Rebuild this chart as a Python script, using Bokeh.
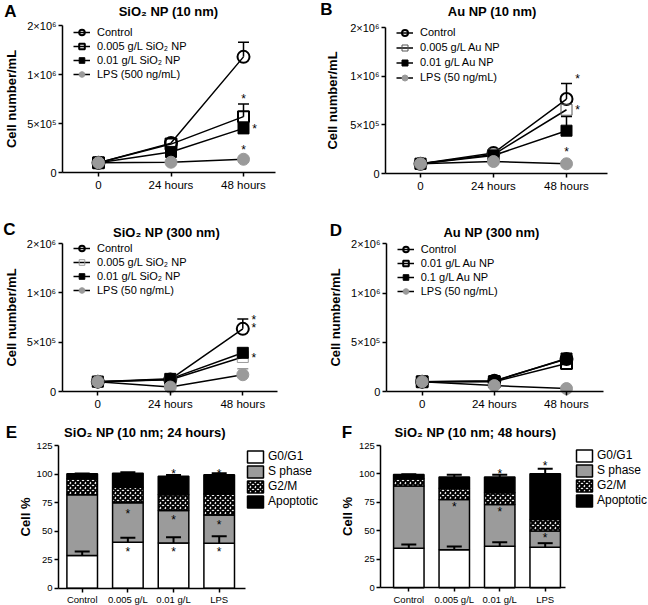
import numpy as np
from bokeh.plotting import figure
from bokeh.models import (FixedTicker, Range1d, Legend, LegendItem, Label, ColumnDataSource)
from bokeh.layouts import row, column
from bokeh.embed import file_html
from bokeh.resources import INLINE
from bokeh.core.properties import value

FONT = "Liberation Sans"

# ---------------- shared ----------------
hours = [0, 24, 48]
hour_labels = ["0", "24 hours", "48 hours"]
count_ticks = [0, 500000, 1000000, 1500000]
count_tick_labels = ["0", "5×10⁵", "1×10⁶", "2×10⁶"]

# ---------------- Panel A : SiO2 NP (10 nm) ----------------
a_names = ["Control", "0.005 g/L SiO₂ NP", "0.01 g/L SiO₂ NP", "LPS (500 ng/mL)"]
a_control = [1.0e5, 3.0e5, 1.18e6]
a_control_err = [0, 0, 1.5e5]
a_low = [1.0e5, 2.9e5, 5.7e5]
a_low_err = [0, 0, 1.3e5]
a_high = [1.0e5, 2.1e5, 4.5e5]
a_high_err = [0, 0, 3.0e4]
a_lps = [1.0e5, 1.05e5, 1.35e5]
a_lps_err = [0, 0, 0]
a_star_x = [48, 48, 48]
a_star_y = [7.8e5, 4.7e5, 2.6e5]

# ---------------- Panel B : Au NP (10 nm) ----------------
b_names = ["Control", "0.005 g/L Au NP", "0.01 g/L Au NP", "LPS (50 ng/mL)"]
b_control = [1.0e5, 2.1e5, 7.65e5]
b_control_err = [0, 0, 1.6e5]
b_low = [1.0e5, 1.95e5, 6.55e5]
b_low_err = [0, 0, 0]
b_high = [1.0e5, 1.85e5, 4.4e5]
b_high_err = [0, 0, 1.45e5]
b_lps = [1.0e5, 1.23e5, 1.0e5]
b_lps_err = [0, 0, 0]
b_star_x = [48, 48, 48]
b_star_y = [1.0e6, 6.8e5, 2.55e5]

# ---------------- Panel C : SiO2 NP (300 nm) ----------------
c_names = ["Control", "0.005 g/L SiO₂ NP", "0.01 g/L SiO₂ NP", "LPS (50 ng/mL)"]
c_control = [1.0e5, 1.22e5, 6.35e5]
c_control_err = [0, 0, 1.0e5]
c_low = [1.0e5, 1.2e5, 3.5e5]
c_low_err = [0, 0, 2.0e4]
c_high = [1.0e5, 1.28e5, 3.92e5]
c_high_err = [0, 0, 0]
c_lps = [1.0e5, 4.5e4, 1.7e5]
c_lps_err = [0, 0, 6.0e4]
c_star_x = [48, 48, 48]
c_star_y = [7.55e5, 6.7e5, 3.75e5]

# ---------------- Panel D : Au NP (300 nm) ----------------
d_names = ["Control", "0.01 g/L Au NP", "0.1 g/L Au NP", "LPS (50 ng/mL)"]
d_control = [1.0e5, 1.1e5, 3.3e5]
d_control_err = [0, 0, 2.0e4]
d_low = [1.0e5, 1.0e5, 2.85e5]
d_low_err = [0, 0, 0]
d_high = [1.0e5, 1.05e5, 3.35e5]
d_high_err = [0, 0, 2.0e4]
d_lps = [1.0e5, 6.0e4, 3.0e4]
d_lps_err = [0, 0, 0]
d_star_x = []
d_star_y = []

# ---------------- Panels E/F : cell cycle ----------------
phases = ["G0/G1", "S phase", "G2/M", "Apoptotic"]
bar_cats = ["Control", "0.005 g/L", "0.01 g/L", "LPS"]
pct_ticks = [0, 25, 50, 75, 100, 125]

e_g0g1 = [28.6, 40.3, 39.7, 39.4]
e_s = [53.2, 34.5, 28.4, 24.8]
e_g2m = [14.0, 13.7, 13.7, 18.4]
e_apop = [4.4, 12.2, 16.3, 16.7]
e_g0g1_err = [3.5, 3.8, 5.0, 6.2]
e_total_err = [0.3, 0.9, 1.0, 1.4]
e_star_x = [1, 1, 2, 2, 2, 3, 3, 3]
e_star_y = [67.2, 34.4, 103.1, 62.8, 34.4, 103.1, 58.4, 34.4]

f_g0g1 = [34.8, 33.4, 36.6, 35.7]
f_s = [54.6, 44.2, 36.6, 14.1]
f_g2m = [6.3, 9.9, 10.2, 10.2]
f_apop = [3.8, 9.8, 13.9, 40.1]
f_g0g1_err = [3.3, 2.9, 3.5, 3.5]
f_total_err = [0.3, 1.9, 1.9, 4.4]
f_star_x = [1, 2, 2, 3, 3]
f_star_y = [74.0, 102.4, 68.8, 109.5, 46.0]


class Box:
    """Pixel geometry of one panel (page pixels)."""
    def __init__(self, ox, oy, w, h, xa, xb, pxa, pxb, ya, yb, pya, pyb, xbounds):
        self.ox, self.oy, self.w, self.h = ox, oy, w, h
        sx = (pxb - pxa) / (xb - xa)
        sy = (pya - pyb) / (yb - ya)
        self.x_start = xa - (pxa - ox) / sx
        self.x_end = self.x_start + w / sx
        self.y_start = ya - (oy + h - pya) / sy
        self.y_end = self.y_start + h / sy
        self.xbounds = xbounds
        self.ybounds = (ya, yb)

    def sx(self, page_x):
        return page_x - self.ox

    def sy(self, page_y):
        return self.oy + self.h - page_y


def style_axes(p, box, xsize, ysize):
    p.xaxis.fixed_location = box.ybounds[0]
    p.xaxis.bounds = box.xbounds
    p.yaxis.fixed_location = box.xbounds[0]
    p.yaxis.bounds = box.ybounds
    for ax, size in ((p.xaxis[0], xsize), (p.yaxis[0], ysize)):
        ax.axis_line_width = 1.5
        ax.axis_line_color = "black"
        ax.major_tick_line_width = 1.5
        ax.major_tick_line_color = "black"
        ax.major_tick_out = 4
        ax.major_tick_in = 0
        ax.minor_tick_line_color = None
        ax.major_label_text_font = FONT
        ax.major_label_text_font_size = size
        ax.major_label_text_color = "black"
        ax.major_label_standoff = 2
        ax.axis_label_text_font = FONT
        ax.axis_label_text_font_style = "bold"
        ax.axis_label_text_color = "black"


def make_fig(box):
    p = figure(width=box.w, height=box.h,
               x_range=Range1d(box.x_start, box.x_end), y_range=Range1d(box.y_start, box.y_end),
               output_backend="svg", toolbar_location=None,
               min_border_left=0, min_border_right=0, min_border_top=0, min_border_bottom=0)
    p.outline_line_color = None
    p.grid.visible = False
    p.background_fill_color = "white"
    p.border_fill_color = "white"
    return p


def add_texts(p, box, title, title_xy, letter, letter_xy):
    p.add_layout(Label(x=box.sx(title_xy[0]), y=box.sy(title_xy[1]), x_units="screen", y_units="screen",
                       text=title, text_font=FONT, text_font_style="bold", text_font_size="13px",
                       text_align="center", text_baseline="middle", text_color="black"))
    p.add_layout(Label(x=box.sx(letter_xy[0]), y=box.sy(letter_xy[1]), x_units="screen", y_units="screen",
                       text=letter, text_font=FONT, text_font_style="bold", text_font_size="17px",
                       text_align="center", text_baseline="middle", text_color="black"))


def line_panel(box, names, values, errors, styles, star_x, star_y, star_dx,
               title, title_xy, letter, letter_xy, ylabel_standoff,
               legend_left, legend_first, legend_pitch):
    p = make_fig(box)
    style_axes(p, box, "11.5px", "11px")
    p.xaxis.ticker = FixedTicker(ticks=hours)
    p.xaxis.major_label_overrides = dict(zip(hours, hour_labels))
    p.yaxis.ticker = FixedTicker(ticks=count_ticks)
    p.yaxis.major_label_overrides = dict(zip(count_ticks, count_tick_labels))
    p.yaxis.axis_label = "Cell number/mL"
    p.yaxis.axis_label_text_font_size = "13px"
    p.yaxis.axis_label_standoff = ylabel_standoff

    line_rs = [p.line(hours, vals, line_color="black", line_width=1.5) for vals in values]
    for vals, errs, st in zip(values, errors, styles):
        xs = [h for h, e in zip(hours, errs) if e > 0]
        lo = [v for v, e in zip(vals, errs) if e > 0]
        hi = [v + e for v, e in zip(vals, errs) if e > 0]
        if xs:
            p.segment(xs, lo, xs, hi, line_color=st["err"], line_width=1.5)
            p.scatter(xs, hi, marker="dash", size=11, line_color=st["err"], line_width=1.5)
    mark_rs = [p.scatter(hours, vals, marker=st["marker"], size=st["size"], fill_color=st["fill"],
                         line_color=st["color"], line_width=st["lw"])
               for vals, st in zip(values, styles)]

    if star_y:
        src = ColumnDataSource(dict(x=star_x, y=star_y, dx=star_dx))
        p.text(x="x", y="y", text=value("*"), x_offset="dx", y_offset=3, source=src,
               text_font=value(FONT), text_font_size="12px", text_align="center",
               text_baseline="alphabetic", text_color="black")

    gh = legend_pitch
    Hl = 4 * gh
    top = legend_first - gh / 2
    items = [LegendItem(label=n, renderers=[l, m]) for n, l, m in zip(names, line_rs, mark_rs)]
    leg = Legend(items=items, location=(box.sx(legend_left), box.sy(top) - Hl),
                 glyph_width=17, glyph_height=gh, label_height=gh, spacing=0, padding=0, margin=0,
                 label_standoff=7, label_text_font=FONT, label_text_font_size="11px",
                 label_text_color="black", border_line_color=None, background_fill_alpha=0)
    p.add_layout(leg)
    add_texts(p, box, title, title_xy, letter, letter_xy)
    return p


def bar_panel(box, fracs, g0_err, top_err, star_x, star_y, title, title_xy, letter, letter_xy,
              legend_left, legend_first):
    p = make_fig(box)
    style_axes(p, box, "9.5px", "9.5px")
    xs = list(range(len(bar_cats)))
    p.xaxis.ticker = FixedTicker(ticks=xs)
    p.xaxis.major_label_overrides = dict(zip(xs, bar_cats))
    p.yaxis.ticker = FixedTicker(ticks=pct_ticks)
    p.yaxis.axis_label = "Cell %"
    p.yaxis.axis_label_text_font_size = "13px"
    p.yaxis.axis_label_standoff = 1

    fills = ["white", "#9b9b9b", "white", "black"]
    hatches = [None, None, "diagonal_cross", None]
    bottoms = np.zeros(len(xs))
    rs = []
    for vals, fill, hatch in zip(fracs, fills, hatches):
        tops = bottoms + np.array(vals)
        kw = {}
        if hatch:
            kw = dict(hatch_pattern=hatch, hatch_color="black", hatch_scale=5, hatch_weight=2)
        rs.append(p.vbar(x=xs, bottom=bottoms, top=tops, width=0.67, fill_color=fill,
                         line_color="black", line_width=1.5, **kw))
        bottoms = tops
    g0_top = np.array(fracs[0])
    total = bottoms
    for base, err in ((g0_top, g0_err), (total, top_err)):
        hi = base + np.array(err)
        p.segment(xs, base, xs, hi, line_color="black", line_width=2)
        p.scatter(xs, hi, marker="dash", size=15, line_color="black", line_width=2)

    src = ColumnDataSource(dict(x=star_x, y=star_y))
    p.text(x="x", y="y", text=value("*"), y_offset=3, source=src,
           text_font=value(FONT), text_font_size="12px", text_align="center",
           text_baseline="alphabetic", text_color="black")

    gh = 15
    Hl = 4 * gh
    top = legend_first - gh / 2
    items = [LegendItem(label=n, renderers=[r]) for n, r in zip(phases, rs)]
    leg = Legend(items=items, location=(box.sx(legend_left), box.sy(top) - Hl), glyph_width=20,
                 glyph_height=gh, label_height=gh, spacing=0, padding=0, margin=0,
                 label_standoff=3, label_text_font=FONT, label_text_font_size="12px",
                 label_text_color="black", border_line_color=None, background_fill_alpha=0)
    p.add_layout(leg)
    add_texts(p, box, title, title_xy, letter, letter_xy)
    return p


def styles_for(low_style, high_style):
    return [
        dict(marker="circle", size=12, fill=None, color="black", lw=2, err="black"),
        low_style,
        high_style,
        dict(marker="circle", size=12, fill="#9a9a9a", color="#9a9a9a", lw=1, err="#9a9a9a"),
    ]


filled_sq = dict(marker="square", size=11, fill="black", color="black", lw=1, err="black")
open_sq_thick = dict(marker="square", size=11, fill=None, color="black", lw=2, err="black")
TOP = count_ticks[-1]

boxA = Box(0, 0, 320, 200, 0, 48, 98, 243, 0, TOP, 172, 25, (-11.9, 58.6))
boxB = Box(320, 0, 328, 200, 0, 48, 420, 566, 0, TOP, 173, 27, (-11.5, 61.5))
boxC = Box(0, 200, 320, 210, 0, 48, 97.3, 242.3, 0, TOP, 391, 243, (-11.8, 59.4))
boxD = Box(320, 200, 328, 210, 0, 48, 421.7, 566, 0, TOP, 391, 243.3, (-11.9, 60.3))
boxE = Box(0, 410, 320, 195, 0, 3, 81.7, 218.7, 0, 125, 587.7, 445, (-0.52, 3.575))
boxF = Box(320, 410, 328, 195, 0, 3, 408.3, 544.7, 0, 125, 587.3, 445, (-0.614, 3.443))

pA = line_panel(boxA, a_names, [a_control, a_low, a_high, a_lps],
                [a_control_err, a_low_err, a_high_err, a_lps_err],
                styles_for(open_sq_thick, filled_sq), a_star_x, a_star_y, [0, 11, 0],
                "SiO₂ NP (10 nm)", (168, 11), "A", (10, 10.5), 5, 73, 32, 14)

pB = line_panel(boxB, b_names, [b_control, b_low, b_high, b_lps],
                [b_control_err, b_low_err, b_high_err, b_lps_err],
                styles_for(dict(marker="square", size=11, fill=None, color="#555555", lw=1, err="#555555"), filled_sq),
                b_star_x, b_star_y, [11, 11, 0],
                "Au NP (10 nm)", (491.7, 11), "B", (326, 8.5), 7, 396, 32.3, 15)

pC = line_panel(boxC, c_names, [c_control, c_low, c_high, c_lps],
                [c_control_err, c_low_err, c_high_err, c_lps_err],
                styles_for(dict(marker="square", size=11, fill=None, color="#9a9a9a", lw=1, err="#9a9a9a"), filled_sq),
                c_star_x, c_star_y, [11, 11, 11],
                "SiO₂ NP (300 nm)", (166, 232), "C", (9, 229), 5, 73, 248.3, 14)

pD = line_panel(boxD, d_names, [d_control, d_low, d_high, d_lps],
                [d_control_err, d_low_err, d_high_err, d_lps_err],
                styles_for(open_sq_thick, filled_sq), d_star_x, d_star_y, [],
                "Au NP (300 nm)", (491, 232), "D", (335.5, 230), 5, 396.7, 249.3, 14)

pE = bar_panel(boxE, [e_g0g1, e_s, e_g2m, e_apop], e_g0g1_err, e_total_err, e_star_x, e_star_y,
               "SiO₂ NP (10 nm; 24 hours)", (144.5, 432), "E", (11, 431.5), 245, 456)

pF = bar_panel(boxF, [f_g0g1, f_s, f_g2m, f_apop], f_g0g1_err, f_total_err, f_star_x, f_star_y,
               "SiO₂ NP (10 nm; 48 hours)", (475, 432), "F", (346.5, 431.5), 574, 455)

layout = column(row(pA, pB), row(pC, pD), row(pE, pF))

with open("out.html", "w") as fh:
    fh.write(file_html(layout, INLINE))
